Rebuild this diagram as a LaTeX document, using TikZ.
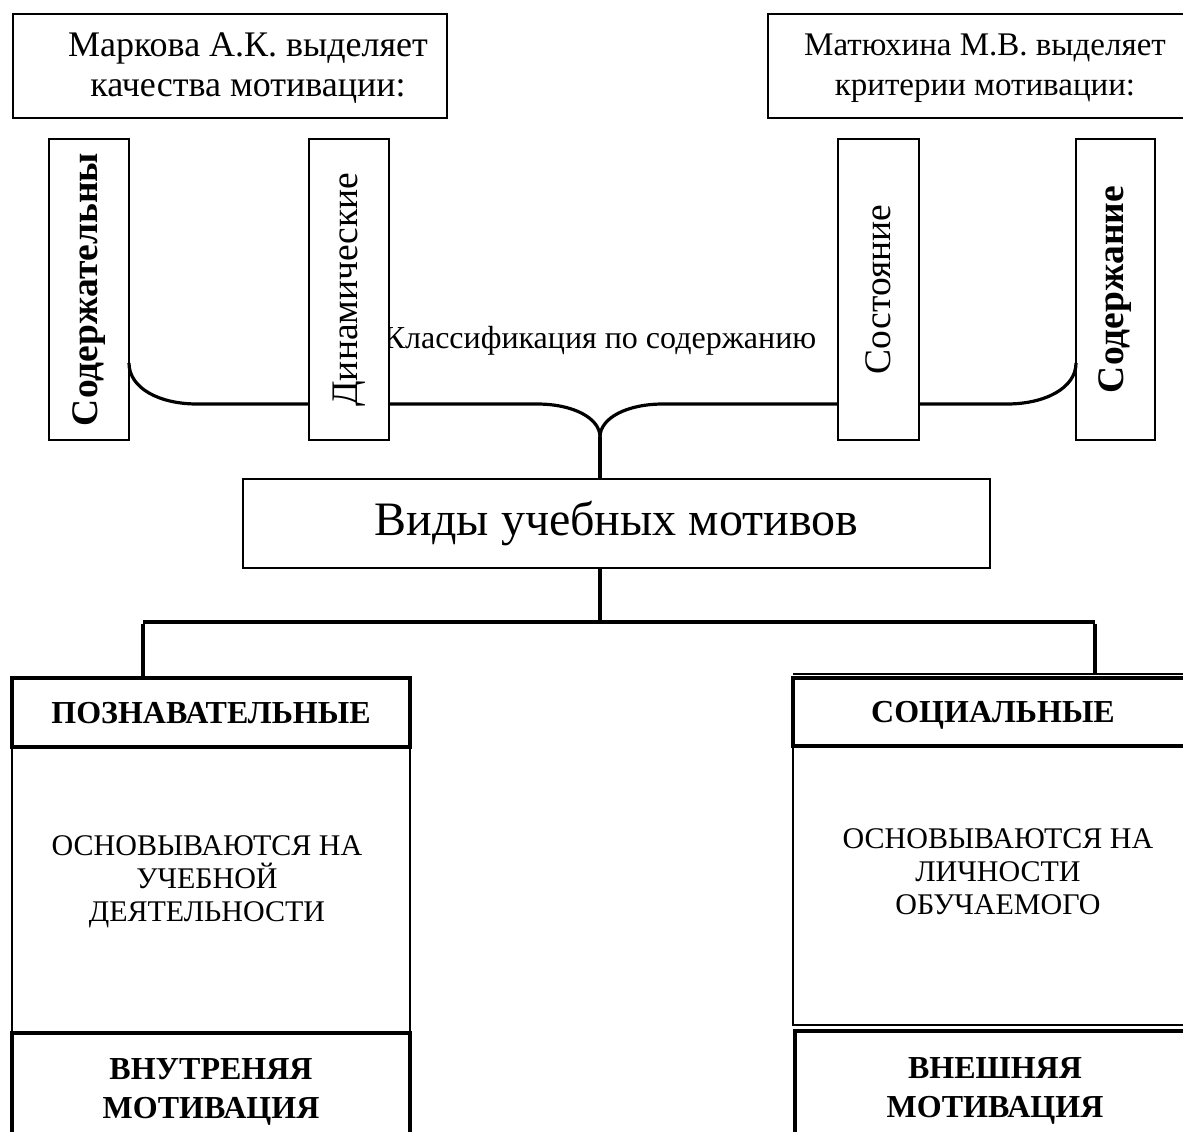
\documentclass[tikz,border=0pt]{standalone}
\usepackage{fontspec}
\setmainfont{Liberation Serif}
\begin{document}
\begin{tikzpicture}[x=1pt,y=-1pt,
  bx/.style={draw, fill=white, line width=1.8pt, inner sep=0pt, outer sep=0pt},
  thk/.style={bx, line width=4.5pt},
  conn/.style={line width=3.2pt},
  txt/.style={inner sep=0pt, align=center},
  fA/.style={font=\fontsize{36}{40}\selectfont},
  fAr/.style={font=\fontsize{33}{40}\selectfont},
  fV/.style={font=\fontsize{37.5}{40}\selectfont},
  fVB/.style={font=\fontsize{37.5}{40}\selectfont\bfseries},
  fL/.style={font=\fontsize{32}{38}\selectfont},
  fM/.style={font=\fontsize{48}{52}\selectfont},
  fB/.style={font=\fontsize{32}{39}\selectfont\bfseries},
  fS/.style={font=\fontsize{30}{33}\selectfont}]
\clip (0,0) rectangle (1183,1132);
\fill[white] (0,0) rectangle (1183,1132);

% label under the boxes
\node[txt, fL] (cls) at (600,341) {Классификация по содержанию};

% top boxes
\node[bx, minimum width=434pt, minimum height=104pt] (tl) at (230,66) {};
\node[txt, fA] (tlt) at (248,68) {Маркова А.К. выделяет\\качества мотивации:};
\node[bx, minimum width=448pt, minimum height=104pt] (tr) at (992,66) {};
\node[txt, fAr] (trt) at (985,68) {Матюхина М.В. выделяет\\критерии мотивации:};

% vertical boxes
\node[bx, minimum width=80pt, minimum height=301pt] (v1) at (89,289.5) {};
\node[bx, minimum width=80pt, minimum height=301pt] (v2) at (349,289.5) {};
\node[bx, minimum width=81pt, minimum height=301pt] (v3) at (878.5,289.5) {};
\node[bx, minimum width=79pt, minimum height=301pt] (v4) at (1115.5,289.5) {};
\node[txt, fVB, rotate=90] (v1t) at (v1) {Содержательны};
\node[txt, fV, rotate=90] (v2t) at (v2) {Динамические};
\node[txt, fV, rotate=90] (v3t) at (v3) {Состояние};
\node[txt, fVB, rotate=90] (v4t) at (v4) {Содержание};

% main box
\node[bx, fM, minimum width=747pt, minimum height=89pt] (main) at (616.5,523.5) {Виды учебных мотивов};

% lower left column
\node[bx, minimum width=398pt, minimum height=285pt] (lb) at (211,889.5) {};
\node[txt, fS] (lbt) at (207,882) {ОСНОВЫВАЮТСЯ НА\\УЧЕБНОЙ\\ДЕЯТЕЛЬНОСТИ};
\node[thk, fB, text depth=0pt, minimum width=398pt, minimum height=69pt] (lp) at (211,712.5) {ПОЗНАВАТЕЛЬНЫЕ};
\node[thk, fB, align=center, minimum width=398pt, minimum height=117pt] (li) at (211,1091.5) {ВНУТРЕНЯЯ\\МОТИВАЦИЯ};

% lower right column
\node[bx, minimum width=400pt, minimum height=279pt] (rb) at (993,885.5) {};
\node[txt, fS] (rbt) at (998,872) {ОСНОВЫВАЮТСЯ НА\\ЛИЧНОСТИ\\ОБУЧАЕМОГО};
\node[thk, fB, text depth=0pt, minimum width=400pt, minimum height=68pt] (rp) at (993,712) {СОЦИАЛЬНЫЕ};
\draw[line width=1.2pt] ([yshift=4pt]rp.north west) -- ([yshift=4pt]rp.north east);
\node[thk, fB, align=center, minimum width=400pt, minimum height=120pt] (re) at (995,1091) {ВНЕШНЯЯ\\МОТИВАЦИЯ};

% brace connectors
\coordinate (j) at (600,437);
\draw[conn] ([yshift=77pt]v1.south east) .. controls +(0,25) and +(-38,0) .. ([xshift=-112pt,yshift=36pt]v2.south west) -- ([yshift=36pt]v2.south west);
\draw[conn] ([yshift=36pt]v2.south east) -- ++(148,0) .. controls +(36,0) and +(0,-19) .. (j);
\draw[conn] ([yshift=36pt]v3.south west) -- ++(-175,0) .. controls +(-36,0) and +(0,-19) .. (j);
\draw[conn] ([yshift=36pt]v3.south east) -- ++(88,0) .. controls +(38,0) and +(0,25) .. ([yshift=77pt]v4.south west);
\draw[conn] (j) -- (j |- main.north);

% lower connectors
\coordinate (lc) at (143,622);
\coordinate (rc) at (1095,622);
\draw[conn] (j |- main.south) -- (j |- lc);
\draw[line width=4pt] (lc) -- (rc);
\draw[conn] ([yshift=-1.5pt]lc) -- (lc |- lp.north);
\draw[conn] ([yshift=-1.5pt]rc) -- ([yshift=4pt]rc |- rp.north);
\end{tikzpicture}
\end{document}
